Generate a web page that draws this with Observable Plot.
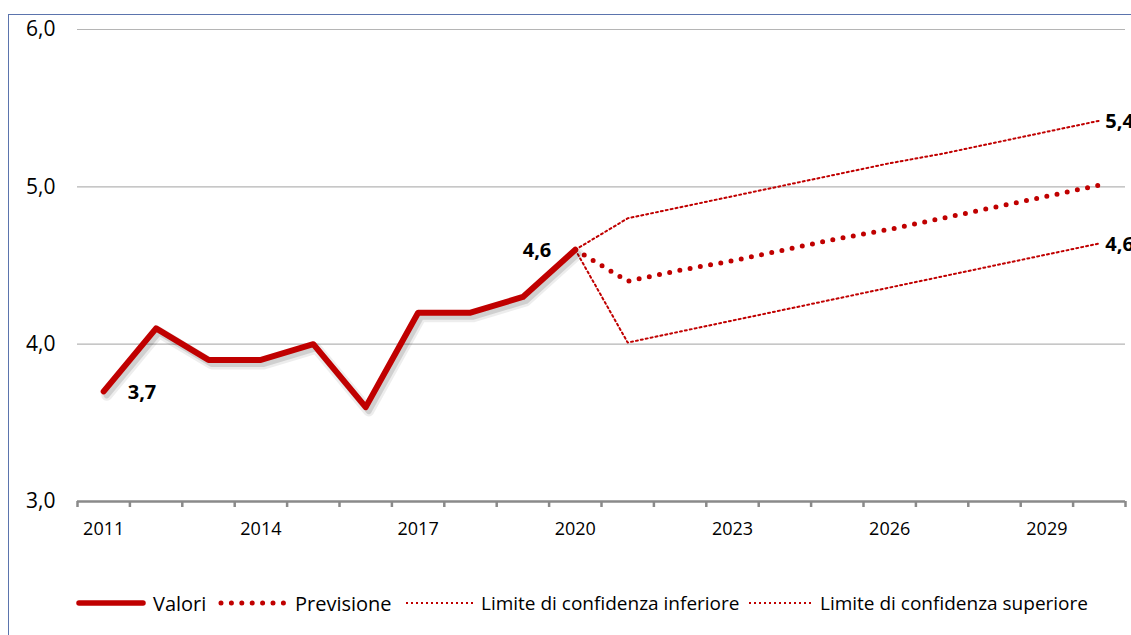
<!DOCTYPE html>
<html>
<head>
<meta charset="utf-8">
<script src="https://cdn.jsdelivr.net/npm/d3@7"></script>
<script src="https://cdn.jsdelivr.net/npm/@observablehq/plot@0.6"></script>
<style>
  html, body { margin: 0; padding: 0; background: #fff; }
  #wrap { position: relative; width: 1131px; height: 635px; overflow: hidden; font-family: "Open Sans", sans-serif; }
  #frame { position: absolute; left: 8px; top: 14px; width: 1200px; height: 700px; border-left: 1.5px solid #5b74ad; border-top: 1.5px solid #5b74ad; }
  #chart { position: absolute; left: 0; top: 0; }
  .leg { position: absolute; top: 590px; height: 26px; display: flex; align-items: center; white-space: nowrap; color: #000; }
  .leg svg { display: block; }
</style>
</head>
<body>
<div id="wrap">
  <div id="frame"></div>
  <div id="chart"></div>
</div>
<script>
// ---- data ----
const valoriYears = [2011, 2012, 2013, 2014, 2015, 2016, 2017, 2018, 2019, 2020];
const valoriValues = [3.7, 4.1, 3.9, 3.9, 4.0, 3.6, 4.2, 4.2, 4.3, 4.6];

const forecastYears = [2020, 2021, 2022, 2023, 2024, 2025, 2026, 2027, 2028, 2029, 2030];
const previsioneValues = [4.6, 4.40, 4.47, 4.53, 4.60, 4.67, 4.73, 4.80, 4.87, 4.94, 5.01];
const inferioreValues  = [4.6, 4.01, 4.08, 4.15, 4.22, 4.29, 4.36, 4.43, 4.50, 4.57, 4.64];
const superioreValues  = [4.6, 4.80, 4.87, 4.94, 5.01, 5.08, 5.15, 5.21, 5.28, 5.35, 5.42];

const yTicks = [3, 4, 5, 6];
const gridValues = [4, 5, 6];
const xTickLabels = [2011, 2014, 2017, 2020, 2023, 2026, 2029];
const xBandEdges = d3.range(2010.5, 2031, 1);

const legendLabels = ["Valori", "Previsione", "Limite di confidenza inferiore", "Limite di confidenza superiore"];

// ---- tables ----
const valori = valoriYears.map((year, i) => ({year, value: valoriValues[i]}));
const previsione = forecastYears.map((year, i) => ({year, value: previsioneValues[i]}));
const inferiore = forecastYears.map((year, i) => ({year, value: inferioreValues[i]}));
const superiore = forecastYears.map((year, i) => ({year, value: superioreValues[i]}));

const fmt = v => v.toFixed(1).replace(".", ",");
const red = "#C00000";

const labelsLeft = [valori[valori.length - 1]];
const labelsBelowRight = [valori[0]];
const labelsRight = [superiore[superiore.length - 1], inferiore[inferiore.length - 1]];

const chart = Plot.plot({
  width: 1131,
  height: 560,
  marginTop: 29,
  marginBottom: 59,
  marginLeft: 77,
  marginRight: 6,
  style: {fontFamily: "'Open Sans', sans-serif", fontSize: "18px", color: "#000", background: "transparent"},
  x: {domain: [2010.5, 2030.5], axis: null},
  y: {domain: [3, 6], axis: null},
  marks: [
    Plot.ruleY(gridValues, {stroke: "#b5b5b5", strokeWidth: 1.2}),
    Plot.ruleY([3], {stroke: "#8a8a8a", strokeWidth: 2.5}),
    Plot.axisX(xBandEdges, {tickSize: 6, tickFormat: () => "", stroke: "#8a8a8a", strokeWidth: 2.5, tickPadding: 0, label: null}),
    Plot.axisX(xTickLabels, {tickSize: 0, tickPadding: 21, tickFormat: d => String(d), fontSize: 18, label: null}),
    Plot.axisY(yTicks, {tickSize: 0, tickPadding: 22, tickFormat: fmt, fontSize: 21, label: null}),
    Plot.line(inferiore, {x: "year", y: "value", stroke: red, strokeWidth: 2, strokeDasharray: "2 3"}),
    Plot.line(superiore, {x: "year", y: "value", stroke: red, strokeWidth: 2, strokeDasharray: "2 3"}),
    Plot.line(previsione, {x: "year", y: "value", stroke: red, strokeWidth: 5, strokeDasharray: "0 10.4", strokeLinecap: "round"}),
    // soft shadow of the observed series
    Plot.line(valori, {x: "year", y: "value", stroke: "#000", strokeOpacity: 0.07, strokeWidth: 11, dx: 3, dy: 4, strokeLinejoin: "round", strokeLinecap: "round"}),
    Plot.line(valori, {x: "year", y: "value", stroke: "#000", strokeOpacity: 0.12, strokeWidth: 6, dx: 3, dy: 4, strokeLinejoin: "round", strokeLinecap: "round"}),
    Plot.line(valori, {x: "year", y: "value", stroke: red, strokeWidth: 6, strokeLinejoin: "round", strokeLinecap: "round"}),
    Plot.text(labelsLeft, {x: "year", y: "value", text: d => fmt(d.value), textAnchor: "end", dx: -24, dy: 1, fontWeight: "bold", fontSize: 20}),
    Plot.text(labelsBelowRight, {x: "year", y: "value", text: d => fmt(d.value), textAnchor: "start", dx: 24, dy: 1, fontWeight: "bold", fontSize: 20}),
    Plot.text(labelsRight, {x: "year", y: "value", text: d => fmt(d.value), textAnchor: "start", dx: 6, dy: 1, fontWeight: "bold", fontSize: 20})
  ]
});

document.getElementById("chart").appendChild(chart);

// ---- legend ----
const wrap = document.getElementById("wrap");
const legendItems = [
  {label: legendLabels[0], left: 75, sw: 74, w: 5.5, dash: null, cap: "round", font: 20},
  {label: legendLabels[1], left: 217, sw: 74, w: 5, dash: "0 10.4", cap: "round", font: 20},
  {label: legendLabels[2], left: 405, sw: 72, w: 2, dash: "2 3", cap: "butt", font: 19},
  {label: legendLabels[3], left: 748, sw: 68, w: 2, dash: "2 3", cap: "butt", font: 19}
];
legendItems.forEach(it => {
  const d = document.createElement("div");
  d.className = "leg";
  d.style.left = it.left + "px";
  const s = d3.create("svg").attr("width", it.sw).attr("height", 12);
  s.append("line").attr("x1", it.cap === "round" ? 4 : 1).attr("x2", it.sw - (it.cap === "round" ? 6 : 2))
    .attr("y1", 6).attr("y2", 6)
    .attr("stroke", red).attr("stroke-width", it.w).attr("stroke-linecap", it.cap)
    .attr("stroke-dasharray", it.dash);
  d.appendChild(s.node());
  const t = document.createElement("span");
  t.textContent = it.label;
  t.style.fontSize = it.font + "px";
  t.style.marginLeft = "4px";
  d.appendChild(t);
  wrap.appendChild(d);
});
</script>
</body>
</html>
